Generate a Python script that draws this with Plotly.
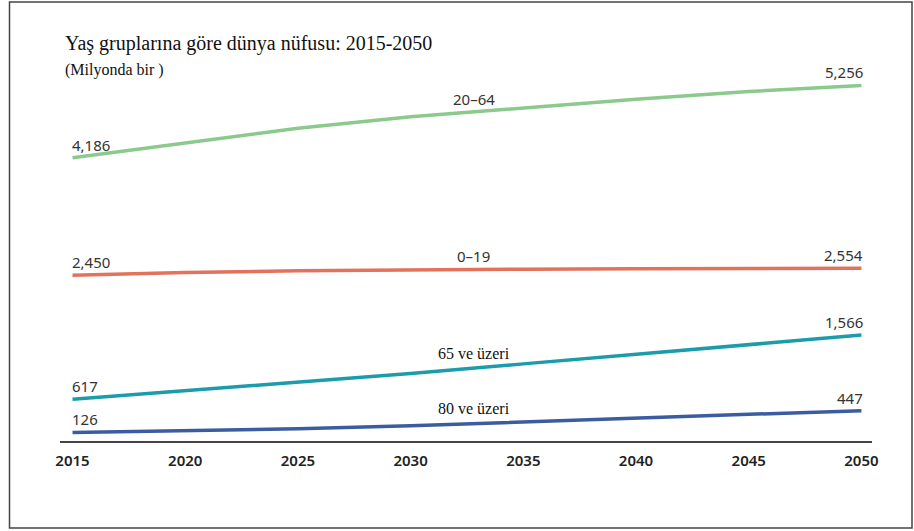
import numpy as np
import plotly.graph_objects as go

years = [2015, 2020, 2025, 2030, 2035, 2040, 2045, 2050]
age_20_64 = [4186, 4411, 4624, 4794, 4928, 5053, 5166, 5256]
age_0_19 = [2450, 2490, 2515, 2530, 2540, 2545, 2550, 2554]
age_65_plus = [617, 746, 864, 997, 1140, 1281, 1425, 1566]
age_80_plus = [126, 154, 181, 224, 284, 343, 394, 447]

series = [
    ("20–64", age_20_64, "#8cc98c", "sans"),
    ("0–19", age_0_19, "#e2725b", "sans"),
    ("65 ve üzeri", age_65_plus, "#1b9cab", "serif"),
    ("80 ve üzeri", age_80_plus, "#3b5c9e", "serif"),
]
tick_years = [2015, 2020, 2025, 2030, 2035, 2040, 2045, 2050]
title_text = "Yaş gruplarına göre dünya nüfusu: 2015-2050"
subtitle_text = "(Milyonda bir )"
label_year = 2032.8

SANS = "Noto Sans, DejaVu Sans, sans-serif"
SERIF = "Liberation Serif, serif"

fig = go.Figure()
annotations = []
for name, vals, color, lab_font in series:
    fig.add_trace(go.Scatter(
        x=years, y=vals, mode="lines", name=name,
        line=dict(color=color, width=3.5), hoverinfo="skip",
    ))
    annotations.append(dict(
        x=years[0], y=vals[0], xref="x", yref="y", text=f"{vals[0]:,}",
        showarrow=False, xanchor="left", yanchor="middle", xshift=-3, yshift=13,
        font=dict(family=SANS, size=15, color="#333333"),
    ))
    annotations.append(dict(
        x=years[-1], y=vals[-1], xref="x", yref="y", text=f"{vals[-1]:,}",
        showarrow=False, xanchor="right", yanchor="middle", xshift=4, yshift=13,
        font=dict(family=SANS, size=15, color="#333333"),
    ))
    yv = float(np.interp(label_year, years, vals))
    if lab_font == "sans":
        f = dict(family=SANS, size=15, color="#333333")
        ys = 13
    else:
        f = dict(family=SERIF, size=16, color="#111111")
        ys = 15
    annotations.append(dict(
        x=label_year, y=yv, xref="x", yref="y", text=name,
        showarrow=False, xanchor="center", yanchor="middle", yshift=ys, font=f,
    ))

annotations.append(dict(
    x=0.0037, y=0.9925, xref="paper", yref="paper", text=title_text,
    showarrow=False, xanchor="left", yanchor="middle",
    font=dict(family=SERIF, size=20, color="#111111"),
))
annotations.append(dict(
    x=0.0037, y=0.925, xref="paper", yref="paper", text=subtitle_text,
    showarrow=False, xanchor="left", yanchor="middle",
    font=dict(family=SERIF, size=16, color="#111111"),
))

fig.update_layout(
    width=914, height=531,
    margin=dict(l=60, r=42, t=40, b=90),
    paper_bgcolor="white", plot_bgcolor="white",
    showlegend=False,
    annotations=annotations,
    shapes=[dict(
        type="rect", xref="paper", yref="paper",
        x0=(9.5 - 60) / 812, x1=(912 - 60) / 812,
        y0=(441 - 528) / 401, y1=(441 - 2) / 401,
        line=dict(color="#444444", width=1.5), fillcolor="rgba(0,0,0,0)",
        layer="below",
    )],
    xaxis=dict(
        range=[2014.445, 2050.47], tickmode="array", tickvals=tick_years,
        ticktext=[str(t) for t in tick_years],
        showgrid=False, zeroline=False, showline=True, linecolor="#444444", linewidth=1.5,
        ticks="", ticklabelstandoff=5,
        tickfont=dict(family=SANS, size=15, color="#222222", weight=600),
    ),
    yaxis=dict(
        range=[0, 5928], showgrid=False, zeroline=False, showline=False,
        showticklabels=False, ticks="",
    ),
)

fig.write_html("out.html")
